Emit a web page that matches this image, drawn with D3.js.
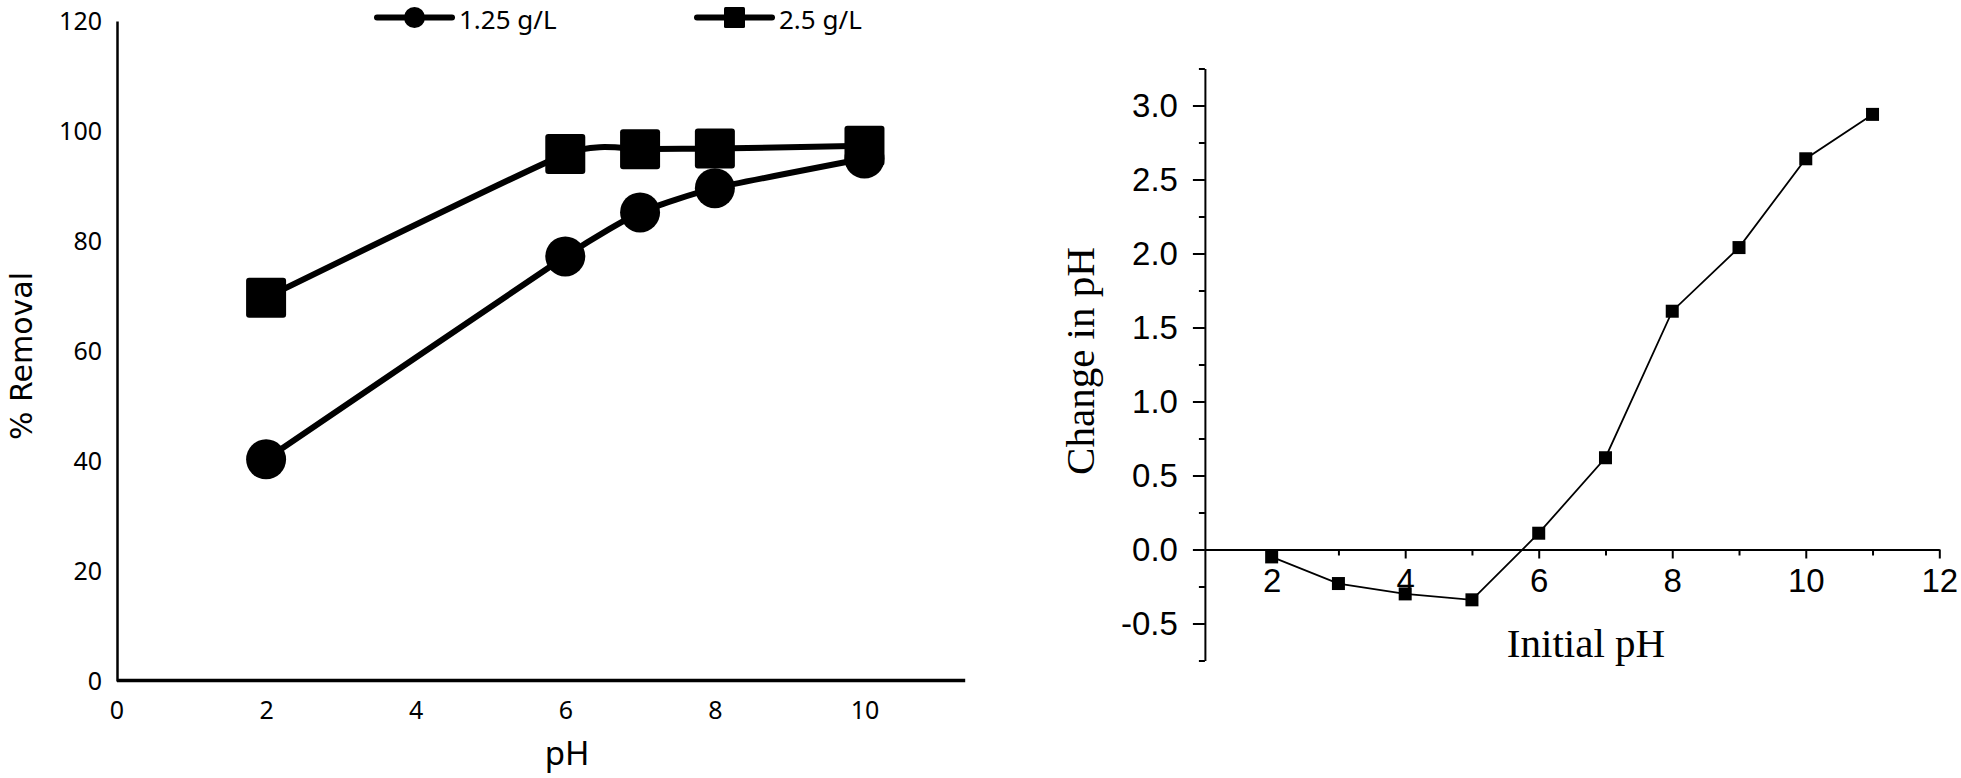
<!DOCTYPE html>
<html>
<head>
<meta charset="utf-8">
<script src="https://cdn.jsdelivr.net/npm/d3@7"></script>
<style>
    body { margin: 0; background: #fff; }
    svg { display: block; }
</style>
</head>
<body>
<svg id="chart" width="1961" height="778"></svg>
<script>
// left panel: % removal vs pH for two adsorbent doses
const phLeft = [2, 6, 7, 8, 10];
const removalLow = [40.3, 77.2, 85.2, 89.6, 95.0];   // 1.25 g/L
const removalHigh = [69.7, 95.8, 96.7, 96.8, 97.3];  // 2.5 g/L
const leftXTicks = [0, 2, 4, 6, 8, 10];
const leftYTicks = [0, 20, 40, 60, 80, 100, 120];
const legendLabels = ["1.25 g/L", "2.5 g/L"];

// right panel: change in pH vs initial pH
const phInitial = [2, 3, 4, 5, 6, 7, 8, 9, 10, 11];
const phChange = [-0.05, -0.23, -0.30, -0.34, 0.11, 0.62, 1.61, 2.04, 2.64, 2.94];
const rightXMajor = [2, 4, 6, 8, 10, 12];
const rightXMinor = [3, 5, 7, 9, 11];
const rightYMajor = [-0.5, 0, 0.5, 1.0, 1.5, 2.0, 2.5, 3.0];
const rightYMinor = [-0.75, -0.25, 0.25, 0.75, 1.25, 1.75, 2.25, 2.75, 3.25];

const svg = d3.select("#chart");

// ---------- left chart ----------
const xL = d3.scaleLinear().domain([0, 11.34]).range([116.5, 964.7]);
const yL = d3.scaleLinear().domain([0, 120]).range([681, 21]);
const left = svg.append("g");
const sansL = "'Noto Sans', 'Open Sans', sans-serif";

left.append("g")
    .attr("transform", "translate(117,0)")
    .call(d3.axisLeft(yL).tickValues(leftYTicks).tickSize(0).tickSizeOuter(0).tickPadding(15))
    .call(g => g.select(".domain").attr("stroke-width", 2.5))
    .selectAll("text")
    .attr("font-family", sansL)
    .attr("font-size", 25)
    .attr("fill", "#000");

left.append("g")
    .attr("transform", "translate(0,680)")
    .call(d3.axisBottom(xL).tickValues(leftXTicks).tickSize(0).tickSizeOuter(0).tickPadding(21))
    .call(g => g.select(".domain").attr("stroke-width", 3.5))
    .selectAll("text")
    .attr("font-family", sansL)
    .attr("font-size", 25)
    .attr("fill", "#000");

left.append("text")
    .attr("transform", "translate(32,356) rotate(-90)")
    .attr("text-anchor", "middle")
    .attr("font-family", "'DejaVu Sans', sans-serif")
    .attr("font-size", 30)
    .text("% Removal");

left.append("text")
    .attr("x", 567)
    .attr("y", 765)
    .attr("text-anchor", "middle")
    .attr("font-family", sansL)
    .attr("font-size", 33)
    .text("pH");

// Excel-like smoothed line
const smooth = d3.line()
    .x(d => xL(d[0]))
    .y(d => yL(d[1]))
    .curve(d3.curveCardinal.tension(0.5));

const lowPts = phLeft.map((p, i) => [p, removalLow[i]]);
const highPts = phLeft.map((p, i) => [p, removalHigh[i]]);

[lowPts, highPts].forEach(pts => {
    left.append("path")
        .attr("d", smooth(pts))
        .attr("fill", "none")
        .attr("stroke", "#000")
        .attr("stroke-width", 6)
        .attr("stroke-linejoin", "round");
});

left.selectAll("circle.low")
    .data(lowPts)
    .join("circle")
    .attr("class", "low")
    .attr("cx", d => xL(d[0]))
    .attr("cy", d => yL(d[1]))
    .attr("r", 20)
    .attr("fill", "#000");

left.selectAll("rect.high")
    .data(highPts)
    .join("rect")
    .attr("class", "high")
    .attr("x", d => xL(d[0]) - 20)
    .attr("y", d => yL(d[1]) - 20)
    .attr("width", 40)
    .attr("height", 40)
    .attr("rx", 3)
    .attr("fill", "#000");

// legend
const legend = left.append("g");
const legendX = [377, 697];
legendLabels.forEach((label, i) => {
    let lx = legendX[i];
    legend.append("line")
        .attr("x1", lx).attr("x2", lx + 75)
        .attr("y1", 17.5).attr("y2", 17.5)
        .attr("stroke", "#000")
        .attr("stroke-width", 6)
        .attr("stroke-linecap", "round");
    if (i === 0) {
        legend.append("circle")
            .attr("cx", lx + 37.5).attr("cy", 17.5).attr("r", 10.5)
            .attr("fill", "#000");
    } else {
        legend.append("rect")
            .attr("x", lx + 27).attr("y", 7).attr("width", 21).attr("height", 21)
            .attr("rx", 1.5)
            .attr("fill", "#000");
    }
    legend.append("text")
        .attr("x", lx + 82)
        .attr("y", 28.5)
        .attr("font-family", sansL)
        .attr("font-size", 26)
        .text(label);
});

// ---------- right chart ----------
const xR = d3.scaleLinear().domain([1, 12]).range([1204.9, 1939.3]);
const yR = d3.scaleLinear().domain([-0.75, 3.25]).range([660.5, 68.5]);
const right = svg.append("g");
const sansR = "'Liberation Sans', Arial, sans-serif";
const serifR = "'Liberation Serif', 'Times New Roman', serif";

// y axis: minor ticks then labelled major ticks
right.append("g")
    .attr("transform", "translate(1204.9,0)")
    .call(d3.axisLeft(yR).tickValues(rightYMinor).tickSize(6).tickSizeOuter(0).tickFormat(""))
    .call(g => g.select(".domain").attr("stroke-width", 2))
    .selectAll("line").attr("stroke-width", 2);

right.append("g")
    .attr("transform", "translate(1204.9,0)")
    .call(d3.axisLeft(yR).tickValues(rightYMajor).tickSize(12).tickSizeOuter(0).tickPadding(15)
        .tickFormat(d => d.toFixed(1)))
    .call(g => g.select(".domain").remove())
    .call(g => g.selectAll("line").attr("stroke-width", 2))
    .selectAll("text")
    .attr("font-family", sansR)
    .attr("font-size", 33)
    .attr("fill", "#000");

// x axis along y = 0
right.append("g")
    .attr("transform", `translate(0,${yR(0)})`)
    .call(d3.axisBottom(xR).tickValues(rightXMinor).tickSize(6).tickSizeOuter(0).tickFormat(""))
    .call(g => g.select(".domain").attr("stroke-width", 2))
    .selectAll("line").attr("stroke-width", 2);

right.append("g")
    .attr("transform", `translate(0,${yR(0)})`)
    .call(d3.axisBottom(xR).tickValues(rightXMajor).tickSize(9).tickSizeOuter(0).tickPadding(10))
    .call(g => g.select(".domain").remove())
    .call(g => g.selectAll("line").attr("stroke-width", 2))
    .selectAll("text")
    .attr("font-family", sansR)
    .attr("font-size", 33)
    .attr("fill", "#000");

right.append("text")
    .attr("transform", "translate(1094,361) rotate(-90)")
    .attr("text-anchor", "middle")
    .attr("font-family", serifR)
    .attr("font-size", 41)
    .text("Change in pH");

right.append("text")
    .attr("x", 1586)
    .attr("y", 657)
    .attr("text-anchor", "middle")
    .attr("font-family", serifR)
    .attr("font-size", 41)
    .text("Initial pH");

const changePts = phInitial.map((p, i) => [p, phChange[i]]);

right.append("path")
    .attr("d", d3.line().x(d => xR(d[0])).y(d => yR(d[1]))(changePts))
    .attr("fill", "none")
    .attr("stroke", "#000")
    .attr("stroke-width", 1.8);

right.selectAll("rect.chg")
    .data(changePts)
    .join("rect")
    .attr("class", "chg")
    .attr("x", d => xR(d[0]) - 6.5)
    .attr("y", d => yR(d[1]) - 6.5)
    .attr("width", 13)
    .attr("height", 13)
    .attr("fill", "#000");
</script>
</body>
</html>
